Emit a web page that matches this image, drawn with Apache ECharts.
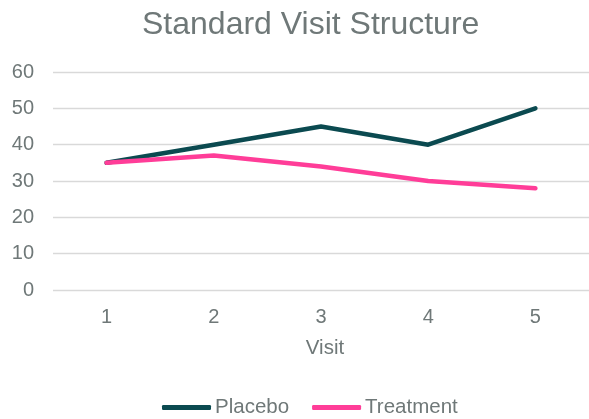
<!DOCTYPE html>
<html><head><meta charset="utf-8">
<script src="https://cdn.jsdelivr.net/npm/echarts@6/dist/echarts.min.js"></script>
<style>html,body{margin:0;padding:0;background:#fff}#c{width:589px;height:419px}</style>
</head><body><div id="c"></div>
<script>
var categories = ['1','2','3','4','5'];
var placebo = [35, 40, 45, 40, 50];
var treatment = [35, 37, 34, 30, 28];
var yTicks = [0, 10, 20, 30, 40, 50, 60];
var textColor = '#6f7878';
var chart = echarts.init(document.getElementById('c'));
chart.setOption({
  animation: false,
  title: {text: 'Standard Visit Structure', left: 137, top: 4,
    textStyle: {fontFamily: 'Liberation Sans, Arial', fontSize: 32, fontWeight: 'normal', color: textColor}},
  legend: {left: 162, bottom: 1, padding: 0, itemWidth: 49, itemHeight: 5, itemGap: 23,
    icon: 'roundRect',
    textStyle: {fontFamily: 'Liberation Sans, Arial', fontSize: 20.5, color: textColor, padding: [0,0,0,-1]},
    data: ['Placebo', 'Treatment']},
  grid: {left: 53, right: -5, top: 72, bottom: 129, containLabel: false},
  xAxis: {type: 'category', data: categories, boundaryGap: true,
    name: 'Visit', nameLocation: 'middle', nameGap: 48,
    nameTextStyle: {fontFamily: 'Liberation Sans, Arial', fontSize: 20.5, color: textColor, padding: [0,0,0,8]},
    axisLine: {show: false}, axisTick: {show: false},
    axisLabel: {margin: 17, fontFamily: 'Liberation Sans, Arial', fontSize: 20, color: textColor}},
  yAxis: {type: 'value', min: yTicks[0], max: yTicks[yTicks.length-1], interval: 10,
    axisLine: {show: false}, axisTick: {show: false},
    axisLabel: {margin: 19, fontFamily: 'Liberation Sans, Arial', fontSize: 20, color: textColor},
    splitLine: {lineStyle: {color: '#d9d9d9', width: 1.3}}},
  series: [
    {name: 'Placebo', type: 'line', data: placebo, showSymbol: false, symbol: 'none',
      itemStyle: {color: '#0b4a50'}, lineStyle: {color: '#0b4a50', width: 4.5, cap: 'round', join: 'round'}},
    {name: 'Treatment', type: 'line', data: treatment, showSymbol: false, symbol: 'none',
      itemStyle: {color: '#ff3d98'}, lineStyle: {color: '#ff3d98', width: 4.5, cap: 'round', join: 'round'}}
  ]
});
</script></body></html>
